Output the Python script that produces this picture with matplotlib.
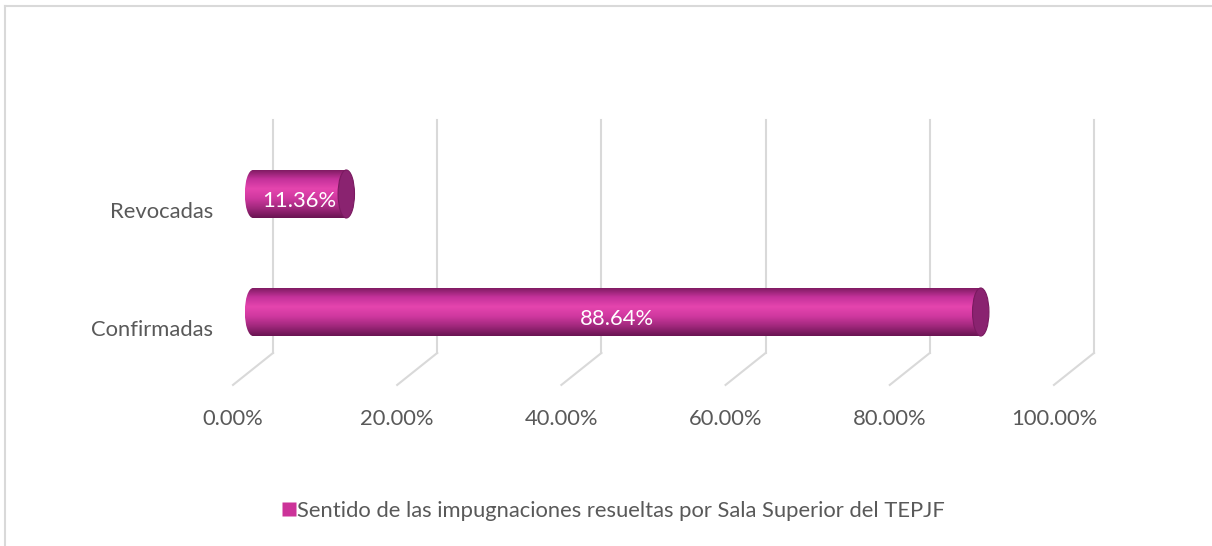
import numpy as np
import matplotlib
matplotlib.use("Agg")
import matplotlib.pyplot as plt
from matplotlib.patches import Rectangle, Ellipse
from matplotlib.lines import Line2D
from matplotlib.colors import LinearSegmentedColormap

categories = ["Confirmadas", "Revocadas"]
values = [88.64, 11.36]
labels = ["88.64%", "11.36%"]
ticks = [0, 20, 40, 60, 80, 100]
tick_labels = ["0.00%", "20.00%", "40.00%", "60.00%", "80.00%", "100.00%"]
legend_label = "Sentido de las impugnaciones resueltas por Sala Superior del TEPJF"

plt.rcParams['font.family'] = ['Lato', 'DejaVu Sans']
fs = 15.8

fig = plt.figure(figsize=(12.12, 5.46), dpi=100)
ax = fig.add_axes([0, 0, 1, 1])
ax.set_xlim(-30.82, 116.81)
ax.set_ylim(-1.983, 2.644)
ax.axis('off')

# perspective offset (depth) in data units
dx = 2.44
back_top = 1.63
back_bot = -0.347
front_bot = -0.618
grid_col = '#d9d9d9'

for t in ticks:
    ax.plot([t + dx, t + dx], [back_bot, back_top], color=grid_col, lw=1.5, zorder=1)
    ax.plot([t + dx, t - dx], [back_bot, front_bot], color=grid_col, lw=1.5, zorder=1)

for t, tl in zip(ticks, tick_labels):
    ax.text(t - dx, -0.91, tl, ha='center', va='center', fontsize=fs, color='#595959')

# cylinder bars
bar_h = 0.407
cap_w = 2.0
cmap = LinearSegmentedColormap.from_list('cyl', ['#7a1a5e', '#c4329a', '#e545ae', '#cf389f', '#a0287c', '#6a1452'])
g = np.linspace(0, 1, 100).reshape(-1, 1)

for i, (cat, v, lab) in enumerate(zip(categories, values, labels)):
    y0 = i - bar_h / 2
    body = Rectangle((0, y0), v, bar_h, facecolor='none', edgecolor='none')
    ax.add_patch(body)
    left = Ellipse((0, i), cap_w, bar_h, facecolor='none', edgecolor='none')
    ax.add_patch(left)
    im = ax.imshow(g, cmap=cmap, extent=(0, v, y0, y0 + bar_h), aspect='auto', zorder=2, origin='upper')
    im.set_clip_path(body)
    im2 = ax.imshow(g, cmap=cmap, extent=(-cap_w / 2, 0.01, y0, y0 + bar_h), aspect='auto', zorder=2, origin='upper')
    im2.set_clip_path(left)
    cap = Ellipse((v, i), cap_w, bar_h, facecolor='#8a2370', edgecolor='#7a1a60', lw=0.8, zorder=3)
    ax.add_patch(cap)
    ax.text(v / 2, i - 0.06, lab, ha='center', va='center', fontsize=fs, color='white', zorder=4)
    ax.text(-4.9, i - 0.15, cat, ha='right', va='center', fontsize=fs, color='#595959')

# legend
handle = Line2D([], [], marker='s', linestyle='none', markersize=10, markerfacecolor='#cc3399', markeredgecolor='none')
fig.legend([handle], [legend_label], loc='center', bbox_to_anchor=(0.506, 0.064), frameon=False,
           fontsize=fs, labelcolor='#595959', handletextpad=0.05, handlelength=0.6)

# chart border
fig.add_artist(Line2D([0.0045, 0.0045], [0, 0.989], color='#d9d9d9', lw=1.5))
fig.add_artist(Line2D([0.0045, 1], [0.989, 0.989], color='#d9d9d9', lw=1.5))

fig.savefig('out.png', dpi=100)
